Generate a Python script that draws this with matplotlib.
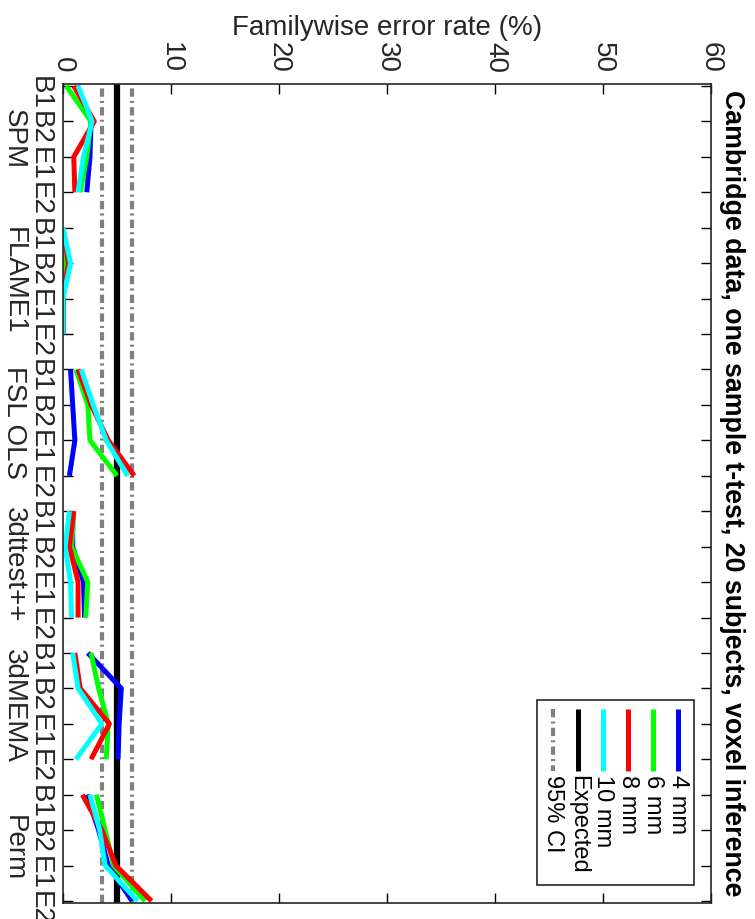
import numpy as np
import matplotlib
matplotlib.use('Agg')
import matplotlib.pyplot as plt
import matplotlib.transforms as mtransforms
from matplotlib.patches import Rectangle
from matplotlib.lines import Line2D

plt.rcParams['font.family'] = ['Liberation Sans', 'DejaVu Sans']
plt.rcParams['lines.scale_dashes'] = False

# data (familywise error rate in %, per method: B1 B2 E1 E2)
methods = ['SPM', 'FLAME1', 'FSL OLS', '3dttest++', '3dMEMA', 'Perm']
designs = ['B1', 'B2', 'E1', 'E2']
fwe_4mm = [1.3, 2.6, 2.5, 2.2,
           0.0, 0.0, 0.0, 0.0,
           0.7, 0.9, 1.1, 0.6,
           0.9, 0.9, 1.9, 2.0,
           2.3, 5.4, 5.2, 5.1,
           2.2, 3.3, 4.2, 6.4]
fwe_6mm = [0.3, 2.6, 2.2, 1.6,
           0.0, 0.2, 0.0, 0.0,
           1.2, 2.3, 2.5, 5.0,
           1.0, 0.8, 2.3, 2.1,
           2.6, 3.3, 4.2, 4.0,
           3.1, 3.9, 4.7, 7.6]
fwe_8mm = [1.0, 2.9, 1.0, 1.1,
           0.0, 0.5, 0.0, 0.0,
           1.4, 2.6, 4.2, 6.6,
           1.0, 0.6, 1.4, 1.4,
           1.1, 1.6, 4.3, 2.6,
           1.8, 3.6, 4.9, 8.2]
fwe_10mm = [1.4, 2.7, 1.9, 1.4,
            0.0, 0.7, 0.0, 0.0,
            1.7, 2.8, 4.0, 6.0,
            0.6, 0.2, 0.7, 0.8,
            0.9, 1.4, 3.6, 1.2,
            2.5, 3.4, 3.9, 6.9]
expected = 5.0
ci_low, ci_high = 3.65, 6.35

series = [('4 mm', fwe_4mm, (0, 0, 1)),
          ('6 mm', fwe_6mm, (0, 1, 0)),
          ('8 mm', fwe_8mm, (1, 0, 0)),
          ('10 mm', fwe_10mm, (0, 1, 1))]
gray = (0.5, 0.5, 0.5)
dashdot = (6, 3, 1.5, 3)

fig = plt.figure(figsize=(7.55, 9.19), dpi=100)
ax = fig.add_axes([0.0834, 0.0174, 0.8583, 0.8912])

pos = np.arange(1, len(methods) * len(designs) + 1)

# reference lines
ax.axvline(ci_low, color=gray, lw=3, dashes=dashdot, zorder=1)
ax.axvline(ci_high, color=gray, lw=3, dashes=dashdot, zorder=1)
ax.axvline(expected, color='k', lw=4.5, zorder=1)

for name, vals, col in series:
    vals = np.array(vals)
    for g in range(len(methods)):
        sl = slice(g * 4, g * 4 + 4)
        ax.plot(vals[sl], pos[sl], color=col, lw=3.6, solid_capstyle='butt', zorder=2)

ax.set_xlim(0, 60)
ax.set_ylim(24.056, 0.944)
ax.set_xticks(np.arange(0, 61, 10))
ax.set_yticks(pos)
ax.set_yticklabels(designs * len(methods))
ax.xaxis.tick_top()
ax.xaxis.set_label_position('top')
ax.set_xlabel('Familywise error rate (%)', fontsize=20, color='#262626', labelpad=5)
ax.tick_params(axis='both', direction='in', length=7, width=1, top=True, bottom=True,
               left=True, right=True, labelsize=20, labelcolor='#262626')
ax.tick_params(axis='x', labelrotation=270, pad=8)
ax.tick_params(axis='y', labelrotation=270, pad=7)
for sp in ax.spines.values():
    sp.set_linewidth(1.2)
    sp.set_color('#262626')

# method names beside the design labels
trans = mtransforms.blended_transform_factory(ax.transAxes, ax.transData)
for g, m in enumerate(methods):
    ax.text(-0.0756, g * 4 + 2.5, m, transform=trans, rotation=270, fontsize=20,
            color='#262626', ha='center', va='center')

# title, written down the right side
ax.text(1.012, 0.5, 'Cambridge data, one sample t-test, 20 subjects, voxel inference',
        transform=ax.transAxes, rotation=270, fontsize=19.3, fontweight='bold',
        ha='left', va='center')

# legend drawn sideways
ax.add_patch(Rectangle((0.731, 0.022), 0.243, 0.226, transform=ax.transAxes,
                       facecolor='white', edgecolor='#262626', lw=1.2, zorder=5))
leg_items = [(n, c, {}) for n, v, c in series] + \
            [('Expected', 'k', {}), ('95% CI', gray, {'dashes': dashdot})]
leg_x = [0.9486, 0.9100, 0.8714, 0.8329, 0.7948, 0.7562]
for (label, col, kw), lx in zip(leg_items, leg_x):
    ax.add_line(Line2D([lx, lx], [0.2369, 0.1612], transform=ax.transAxes, color=col,
                       lw=3.6 if label != '95% CI' else 3, solid_capstyle='butt',
                       zorder=6, **kw))
    ax.text(lx, 0.1563, label, transform=ax.transAxes, rotation=270, fontsize=17,
            ha='center', va='top', zorder=6)

fig.savefig('out.png', dpi=100)
